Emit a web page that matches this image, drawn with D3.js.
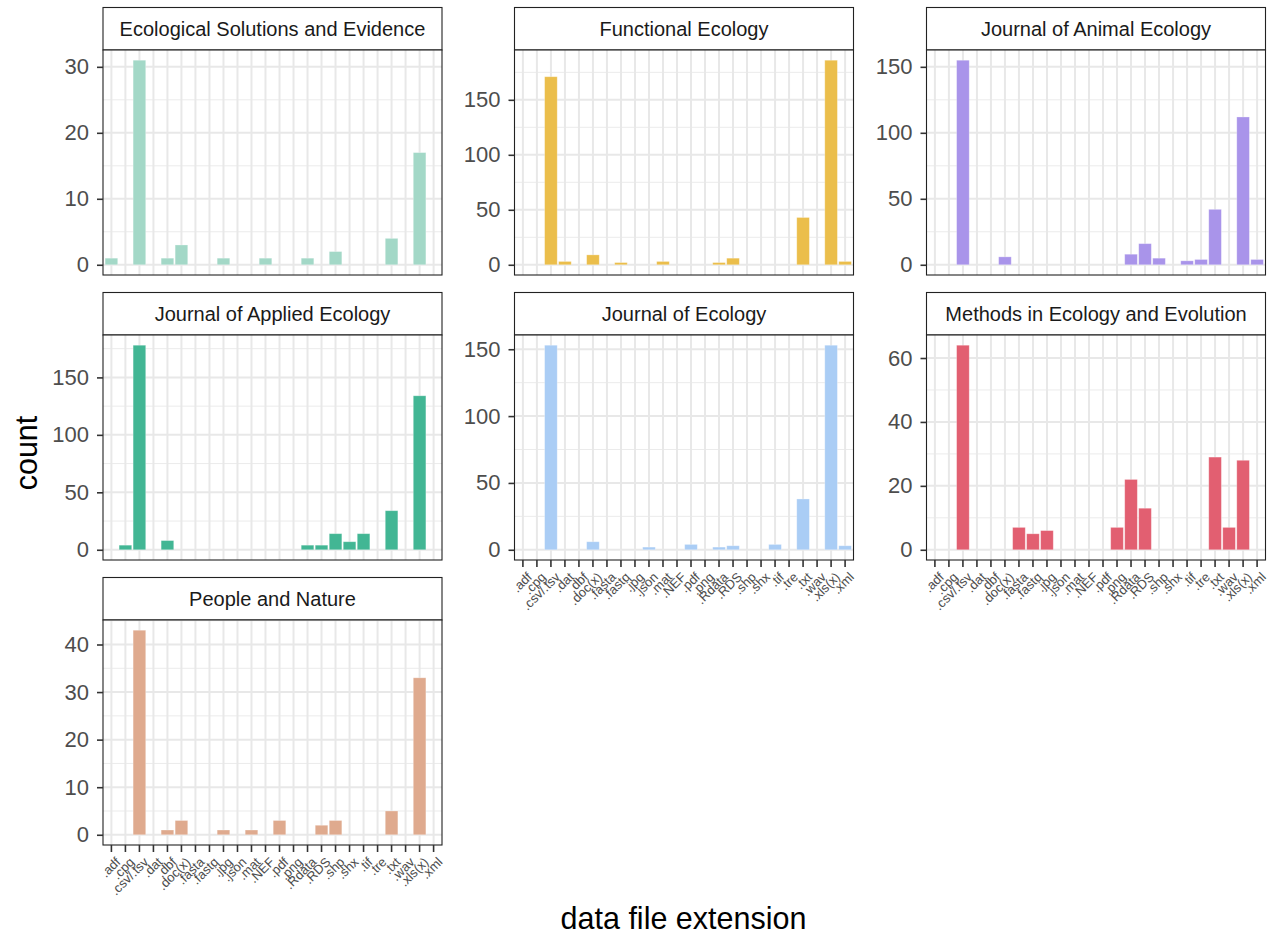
<!DOCTYPE html>
<html><head><meta charset="utf-8">
<script src="https://cdn.jsdelivr.net/npm/d3@7"></script>
<style>
body{margin:0;background:#fff}
svg{display:block}
text{font-family:"Liberation Sans",Arial,Helvetica,sans-serif}
</style>
</head><body>
<svg id="chart" width="1275" height="937"></svg>
<script>
// ---- data ----
const categories = [".adf",".cpg",".csv/.tsv",".dat",".dbf",".doc(x)",".fasta",".fastq",".jpg",".json",".mat",".NEF",".pdf",".png",".Rdata",".RDS",".shp",".shx",".tif",".tre",".txt",".wav",".xls(x)",".xml"];
const journals = ["Ecological Solutions and Evidence","Functional Ecology","Journal of Animal Ecology","Journal of Applied Ecology","Journal of Ecology","Methods in Ecology and Evolution","People and Nature"];
const journalColors = ["#A3D8C7","#EBBE4B","#A994EA","#42B694","#AACDF5","#E25F71","#DFAA8E"];
//                 adf cpg csv dat dbf doc fas fq jpg json mat NEF pdf png Rda RDS shp shx tif tre txt wav xls xml
const countsESE  = [1,  0,  31, 0,  1,  3,  0,  0, 1,  0,   0,  1,  0,  0,  1,  0,  2,  0,  0,  0,  4,  0,  17, 0];
const countsFE   = [0,  0, 171, 3,  0,  9,  0,  2, 0,  0,   3,  0,  0,  0,  2,  6,  0,  0,  0,  0,  43, 0, 186, 3];
const countsJAE  = [0,  0, 155, 0,  0,  6,  0,  0, 0,  0,   0,  0,  0,  0,  8, 16,  5,  0,  3,  4,  42, 0, 112, 4];
const countsJAppE= [0,  4, 178, 0,  8,  0,  0,  0, 0,  0,   0,  0,  0,  0,  4,  4, 14,  7, 14,  0,  34, 0, 134, 0];
const countsJE   = [0,  0, 153, 0,  0,  6,  0,  0, 0,  2,   0,  0,  4,  0,  2,  3,  0,  0,  4,  0,  38, 0, 153, 3];
const countsMEE  = [0,  0,  64, 0,  0,  0,  7,  5, 6,  0,   0,  0,  0,  7, 22, 13,  0,  0,  0,  0,  29, 7,  28, 0];
const countsPN   = [0,  0,  43, 0,  1,  3,  0,  0, 1,  0,   1,  0,  3,  0,  0,  2,  3,  0,  0,  0,  5,  0,  33, 0];
const seriesCounts = [countsESE, countsFE, countsJAE, countsJAppE, countsJE, countsMEE, countsPN];
const yTickLabels = [[0,10,20,30],[0,50,100,150],[0,50,100,150],[0,50,100,150],[0,50,100,150],[0,20,40,60],[0,10,20,30,40]];
const xTitle = "data file extension";
const yTitle = "count";

// ---- layout ----
const svg = d3.select("#chart");
const colLeft = [103, 514.5, 926.5];
const rowTop = [7.5, 292.5, 577.5];
const panelW = 339, stripH = 42.5, panelH = 225;
const xAxisPanels = [4,5,6];
const borderCol = "#222";

journals.forEach((name, i) => {
  const r = Math.floor(i/3), c = i%3;
  const g = svg.append("g").attr("transform", `translate(${colLeft[c]},${rowTop[r]})`);
  // strip
  g.append("rect").attr("x",0).attr("y",0).attr("width",panelW).attr("height",stripH)
    .attr("fill","#fff").attr("stroke",borderCol).attr("stroke-width",1.1);
  g.append("text").attr("x",panelW/2).attr("y",stripH/2).attr("dy","0.35em")
    .attr("text-anchor","middle").attr("font-size",20).attr("fill","#1a1a1a").text(name);

  const p = g.append("g").attr("transform",`translate(0,${stripH})`);
  const vals = seriesCounts[i];
  const maxV = d3.max(vals);
  const y = d3.scaleLinear().domain([-0.05*maxV, 1.05*maxV]).range([panelH, 0]);
  const x = d3.scaleBand().domain(categories).range([0,panelW]).paddingInner(0.1).paddingOuter(0.15);

  p.append("rect").attr("width",panelW).attr("height",panelH).attr("fill","#fff");
  const ticks = yTickLabels[i];
  const step = ticks[1]-ticks[0];
  const minors = [];
  for (let k = ticks[0]-step/2; k <= ticks[ticks.length-1]+step/2 + 1e-9; k += step) {
    if (k >= y.domain()[0] && k <= y.domain()[1]) minors.push(k);
  }
  p.selectAll(".mn").data(minors).enter().append("line")
    .attr("x1",0).attr("x2",panelW).attr("y1",d=>y(d)).attr("y2",d=>y(d))
    .attr("stroke","#ebebeb").attr("stroke-width",1);
  p.selectAll(".mj").data(ticks).enter().append("line")
    .attr("x1",0).attr("x2",panelW).attr("y1",d=>y(d)).attr("y2",d=>y(d))
    .attr("stroke","#e8e8e8").attr("stroke-width",2);
  p.selectAll(".vg").data(categories).enter().append("line")
    .attr("x1",d=>x(d)+x.bandwidth()/2).attr("x2",d=>x(d)+x.bandwidth()/2)
    .attr("y1",0).attr("y2",panelH)
    .attr("stroke","#e8e8e8").attr("stroke-width",2);

  const barData = categories.map((cat,k)=>({cat, v: vals[k]})).filter(d=>d.v>0);
  p.selectAll(".bar").data(barData).enter().append("rect")
    .attr("x",d=>x(d.cat)).attr("width",x.bandwidth())
    .attr("y",d=>y(d.v)).attr("height",d=>y(0)-y(d.v))
    .attr("fill",journalColors[i]).attr("stroke","#ffffff").attr("stroke-opacity",0.35).attr("stroke-width",0.8);

  p.append("rect").attr("width",panelW).attr("height",panelH)
    .attr("fill","none").attr("stroke",borderCol).attr("stroke-width",1.1);

  // y axis
  const ya = p.append("g").call(d3.axisLeft(y).tickValues(ticks).tickSize(6).tickPadding(8).tickFormat(d3.format("d")));
  ya.select(".domain").remove();
  ya.selectAll("line").attr("stroke","#333").attr("stroke-width",1.6);
  ya.selectAll("text").attr("font-size",22).attr("fill","#4d4d4d").attr("font-family",null);

  // x axis
  if (xAxisPanels.includes(i)) {
    const xa = p.append("g").attr("transform",`translate(0,${panelH})`)
      .call(d3.axisBottom(x).tickSize(7).tickPadding(2));
    xa.select(".domain").remove();
    xa.selectAll("line").attr("stroke","#333").attr("stroke-width",1.6);
    xa.selectAll("text")
      .attr("x",0).attr("y",0).attr("dy","0.85em")
      .attr("transform","translate(2,10) rotate(-45)")
      .attr("text-anchor","end").attr("font-size",13).attr("fill","#4d4d4d").attr("font-family",null);
  }
});

// axis titles
svg.append("text").attr("x",683.5).attr("y",929).attr("text-anchor","middle")
  .attr("font-size",30.5).attr("fill","#000").text(xTitle);
svg.append("text").attr("transform","translate(37,453) rotate(-90)").attr("text-anchor","middle")
  .attr("font-size",30.5).attr("fill","#000").text(yTitle);
</script>
</body></html>
